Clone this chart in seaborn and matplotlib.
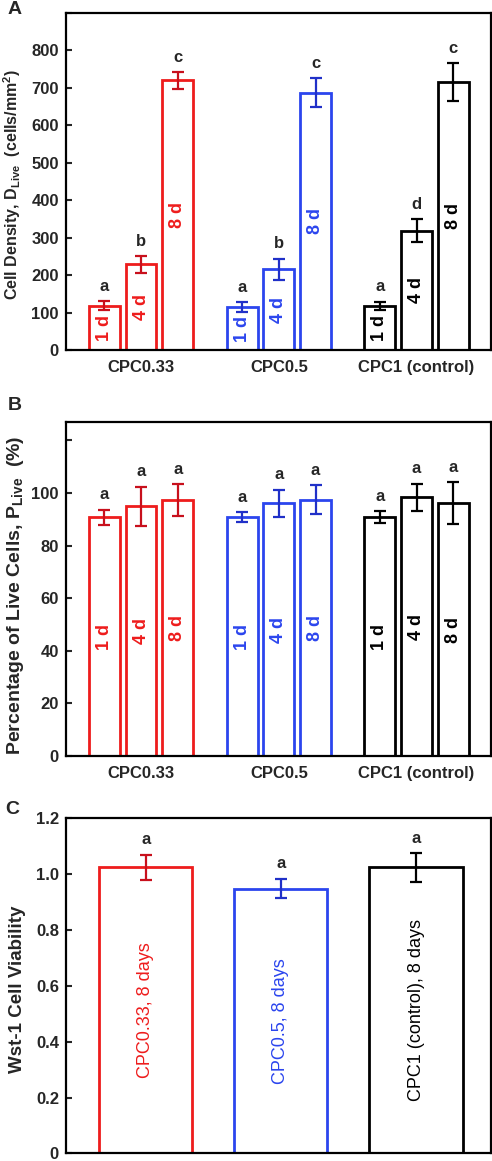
import matplotlib
matplotlib.use("Agg")
import matplotlib.pyplot as plt
import seaborn as sns
import pandas as pd
import numpy as np

# ----------------------------
# Data
# ----------------------------
groups = ["CPC0.33", "CPC0.5", "CPC1 (control)"]
days = ["1 d", "4 d", "8 d"]
edge_colors = ["#ee1c1c", "#2b45ee", "#000000"]
err_colors = ["#c8101c", "#2030c8", "#000000"]

density_mean = [[118, 229, 720], [114, 216, 687], [118, 319, 715]]
density_err = [[12, 22, 22], [13, 28, 39], [11, 30, 51]]
density_letters = [["a", "b", "c"], ["a", "b", "c"], ["a", "d", "c"]]

live_mean = [[90.8, 94.9, 97.3], [90.8, 96.1, 97.5], [90.8, 98.4, 96.1]]
live_err = [[2.9, 7.5, 6.0], [2.0, 5.2, 5.5], [2.2, 5.2, 8.0]]
live_letters = [["a", "a", "a"], ["a", "a", "a"], ["a", "a", "a"]]

wst_mean = [1.023, 0.947, 1.023]
wst_err = [0.046, 0.035, 0.051]
wst_letters = ["a", "a", "a"]
wst_labels = ["CPC0.33, 8 days", "CPC0.5, 8 days", "CPC1 (control), 8 days"]

density_ticks = list(range(0, 1000, 100))
live_ticks = list(range(0, 140, 20))
wst_ticks = [0, 0.2, 0.4, 0.6, 0.8, 1.0, 1.2]

sns.set_style("white")
plt.rcParams["font.family"] = ["Liberation Sans", "DejaVu Sans"]
plt.rcParams["font.weight"] = "bold"
plt.rcParams["mathtext.fontset"] = "custom"
plt.rcParams["mathtext.rm"] = "Liberation Sans:bold"
plt.rcParams["mathtext.bf"] = "Liberation Sans:bold"
plt.rcParams["mathtext.it"] = "Liberation Sans:bold"

fig = plt.figure(figsize=(4.92, 11.61), dpi=100)
ax_a = fig.add_axes([0.134, 0.6985, 0.864, 0.2903])
ax_b = fig.add_axes([0.134, 0.3488, 0.864, 0.2877])
ax_c = fig.add_axes([0.134, 0.0065, 0.864, 0.2890])


def long_df(means):
    rows = []
    for g, grp in enumerate(groups):
        for i, d in enumerate(days):
            rows.append({"group": grp, "day": d, "value": means[g][i]})
    return pd.DataFrame(rows)


def style_axes(ax):
    for s in ax.spines.values():
        s.set_visible(True)
        s.set_linewidth(1.6)
        s.set_color("black")
    ax.tick_params(axis="y", direction="in", length=4, width=1.5, pad=5,
                   labelsize=12, left=True)
    ax.tick_params(axis="x", length=0, pad=7, labelsize=12)
    for lab in ax.get_xticklabels() + ax.get_yticklabels():
        lab.set_fontweight("bold")


def grouped_panel(ax, means, errs, letters, text_kw):
    sns.barplot(data=long_df(means), x="group", y="value", hue="day",
                order=groups, hue_order=days, fill=False, width=0.8, gap=0.16,
                errorbar=None, legend=False, linewidth=2.0, ax=ax)
    step = 0.8 / len(days)
    for p in ax.patches:
        cx = p.get_x() + p.get_width() / 2
        g = int(round(cx))
        i = int(round((cx - g) / step)) + 1
        p.set_edgecolor(edge_colors[g])
        top = means[g][i] + errs[g][i]
        ax.errorbar(cx, means[g][i], yerr=errs[g][i], color=err_colors[g],
                    capsize=4.5, elinewidth=1.6, capthick=1.6, fmt="none")
        ax.annotate(letters[g][i], (cx, top), xytext=(0, 7.5),
                    textcoords="offset points", ha="center", va="baseline",
                    fontsize=12, fontweight="bold")
        ax.text(cx, p.get_height() / 2, days[i], rotation=90, ha="center",
                va="center", color=edge_colors[g], **text_kw)
    ax.set_xlabel("")
    ax.set_xlim(-0.545, 2.54)


# ----------------------------
# Panel A
# ----------------------------
grouped_panel(ax_a, density_mean, density_err, density_letters,
              dict(fontsize=13, fontweight="bold"))
ax_a.set_ylim(0, 900)
ax_a.set_yticks(density_ticks)
ax_a.set_yticklabels([str(v) if v < 900 else "" for v in density_ticks])
ax_a.set_ylabel(r"Cell Density, D$_{\mathbf{Live}}$  (cells/mm$^{\mathbf{2}}$)",
                fontsize=11.5, fontweight="bold")
ax_a.yaxis.set_label_coords(-0.1, 0.49)
style_axes(ax_a)

# ----------------------------
# Panel B
# ----------------------------
grouped_panel(ax_b, live_mean, live_err, live_letters,
              dict(fontsize=13, fontweight="bold"))
ax_b.set_ylim(0, 127)
ax_b.set_yticks(live_ticks)
ax_b.set_yticklabels([str(v) if v < 120 else "" for v in live_ticks])
ax_b.set_ylabel(r"Percentage of Live Cells, P$_{\mathbf{Live}}$  (%)",
                fontsize=14, fontweight="bold")
ax_b.yaxis.set_label_coords(-0.095, 0.482)
style_axes(ax_b)

# ----------------------------
# Panel C
# ----------------------------
sns.barplot(x=groups, y=wst_mean, hue=groups, palette=edge_colors, fill=False,
            width=0.69, errorbar=None, legend=False, linewidth=2.0, ax=ax_c)
for p in ax_c.patches:
    cx = p.get_x() + p.get_width() / 2
    g = int(round(cx))
    p.set_edgecolor(edge_colors[g])
    ax_c.errorbar(cx, wst_mean[g], yerr=wst_err[g], color=err_colors[g],
                  capsize=4.5, elinewidth=1.6, capthick=1.6, fmt="none")
    ax_c.annotate(wst_letters[g], (cx, wst_mean[g] + wst_err[g]), xytext=(0, 7.5),
                  textcoords="offset points", ha="center", va="baseline",
                  fontsize=12, fontweight="bold")
    ax_c.text(cx, p.get_height() / 2, wst_labels[g], rotation=90, ha="center",
              va="center", color=edge_colors[g], fontsize=13, fontweight="normal")
ax_c.set_xlim(-0.59, 2.555)
ax_c.set_ylim(0, 1.2)
ax_c.set_yticks(wst_ticks)
ax_c.set_yticklabels(["0" if v == 0 else f"{v:.1f}" for v in wst_ticks])
ax_c.set_xticks([])
ax_c.set_ylabel("Wst-1 Cell Viability", fontsize=13.5, fontweight="bold")
ax_c.yaxis.set_label_coords(-0.095, 0.49)
style_axes(ax_c)

# panel letters
fig.text(0.03, 0.992, "A", fontsize=14, fontweight="bold", ha="center", va="center")
fig.text(0.03, 1 - 405 / 1161, "B", fontsize=14, fontweight="bold", ha="center", va="center")
fig.text(0.025, 1 - 810 / 1161, "C", fontsize=14, fontweight="bold", ha="center", va="center")

fig.savefig("out.png", dpi=100)
